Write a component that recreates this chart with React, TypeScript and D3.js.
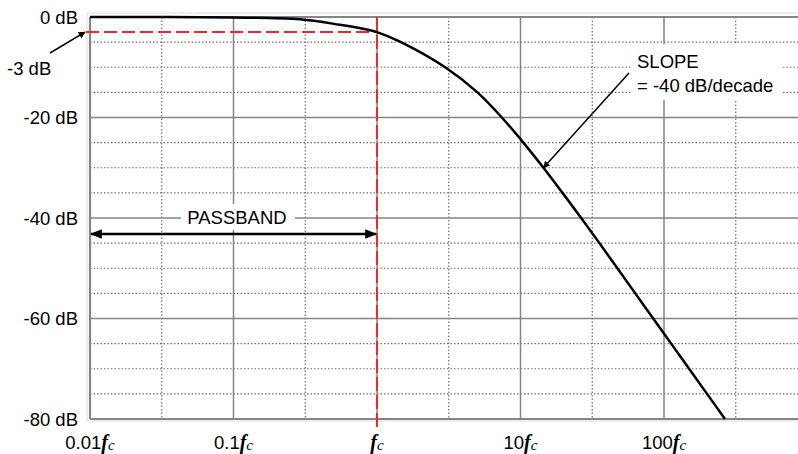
import React from "react";
import * as d3 from "d3";

// frequency as multiple of fc, gain in dB
const curveFreq = [0.01, 0.1, 0.29, 0.55, 0.85, 1, 1.445, 2.985, 5.01, 7.41, 10.47, 14.45, 19.63, 26.49, 35.48, 47.32, 63.1, 84.1, 112.2, 149.6, 199.5, 266.1];
const curveDb = [0, -0.1, -0.45, -1.55, -2.5, -3, -4.9, -10, -15, -20, -25, -30, -35, -40, -45, -50, -55, -60, -65, -70, -75, -80];

const decadeTicks = [0.01, 0.1, 1, 10, 100, 1000];
const decadePrefix = ["0.01", "0.1", "", "10", "100", ""];
const dbMajor = [0, -20, -40, -60, -80];
const dbMinor = [-5, -10, -15, -25, -30, -35, -45, -50, -55, -65, -70, -75];
const cutoffDb = -3;
const cutoffFreq = 1;
const passbandFrom = 0.01;

const W = 798;
const H = 454;

export default function App() {
  const x = d3.scaleLog().domain([0.01, 1000]).range([90, 807.5]);
  const y = d3.scaleLinear().domain([0, -80]).range([17, 419]);
  const minorFreq = decadeTicks.slice(0, -1).map((d, i) => Math.sqrt(d * decadeTicks[i + 1]));
  const line = d3
    .line<number>()
    .x((_, i) => x(curveFreq[i]))
    .y((d) => y(d))
    .curve(d3.curveCatmullRom.alpha(0.5));
  const sans = "'Liberation Sans', Arial, sans-serif";
  const serif = "'Liberation Serif', 'Times New Roman', serif";
  const gray = "#858585";
  const dotGray = "#6e6e6e";
  const red = "#f02828";

  const xc = x(cutoffFreq);
  const y3 = y(cutoffDb);

  // slope arrow: from text to a point on the curve
  const slopeTipIdx = 11;
  const tipX = x(curveFreq[slopeTipIdx]);
  const tipY = y(curveDb[slopeTipIdx]);
  const fromX = 629;
  const fromY = 73;

  return (
    <svg width={W} height={H} style={{ position: "absolute", left: 0, top: 0, background: "#fff" }} fontFamily={sans}>
      <defs>
        <marker id="ah" viewBox="0 0 10 10" refX="9" refY="5" markerWidth="7" markerHeight="7" orient="auto-start-reverse" markerUnits="userSpaceOnUse">
          <path d="M0,0 L10,5 L0,10 z" fill="#000" />
        </marker>
        <marker id="ah2" viewBox="0 0 10 10" refX="9" refY="5" markerWidth="12" markerHeight="12" orient="auto-start-reverse" markerUnits="userSpaceOnUse">
          <path d="M0,1 L10,5 L0,9 z" fill="#000" />
        </marker>
      </defs>
      {/* light outer frame */}
      <path d={`M${W},13 H87 V421 H${W}`} fill="none" stroke="#dcdcdc" strokeWidth={1} />
      {/* minor horizontal */}
      {dbMinor.map((d) => (
        <line key={"hm" + d} x1={90} x2={W} y1={y(d)} y2={y(d)} stroke={dotGray} strokeWidth={1.2} strokeDasharray="1.5,2" />
      ))}
      {/* minor vertical */}
      {minorFreq.map((f) => (
        <line key={"vm" + f} x1={x(f)} x2={x(f)} y1={17} y2={419} stroke={dotGray} strokeWidth={1.2} strokeDasharray="1.5,2" />
      ))}
      {/* major horizontal */}
      {dbMajor.map((d) => (
        <line key={"hM" + d} x1={90} x2={W} y1={y(d)} y2={y(d)} stroke={gray} strokeWidth={d === 0 || d === -80 ? 2.2 : 1.5} />
      ))}
      {/* major vertical */}
      {decadeTicks.map((f) => (
        <line key={"vM" + f} x1={x(f)} x2={x(f)} y1={17} y2={419} stroke={gray} strokeWidth={f === 0.01 ? 2.2 : 1.5} />
      ))}
      {/* white boxes behind labels */}
      <rect x={181} y={204} width={114} height={26} fill="#fff" />
      <rect x={632} y={44} width={150} height={56} fill="#fff" />
      {/* red cutoff markers */}
      <line x1={86} x2={xc} y1={y3} y2={y3} stroke={red} strokeWidth={2} strokeDasharray="13,5" />
      <line x1={xc} x2={xc} y1={17} y2={428} stroke={red} strokeWidth={2} strokeDasharray="14,4" />
      {/* response curve */}
      <path d={line(curveDb) || ""} fill="none" stroke="#000" strokeWidth={2.5} />
      {/* y labels */}
      {dbMajor.map((d) => (
        <text key={"yl" + d} x={78} y={y(d)} dy="0.36em" textAnchor="end" fontSize={18.5} fill="#000">
          {d} dB
        </text>
      ))}
      <text x={7} y={68} dy="0.36em" fontSize={18.5} fill="#000">
        {cutoffDb} dB
      </text>
      <line x1={50} y1={53} x2={85} y2={y3} stroke="#000" strokeWidth={1.5} markerEnd="url(#ah)" />
      {/* x labels */}
      {decadeTicks.map((f, i) =>
        f === 1000 ? null : (
          <text key={"xl" + f} x={x(f)} y={442} dy="0.36em" textAnchor="middle" fontSize={18.5} fill="#000">
            {decadePrefix[i] && <tspan fontFamily={sans}>{decadePrefix[i]}</tspan>}
            <tspan fontFamily={serif} fontStyle="italic" fontWeight="bold" fontSize={20}>f</tspan>
            <tspan fontFamily={serif} fontStyle="italic" fontSize={15} dy={1.5}>c</tspan>
          </text>
        )
      )}
      {/* passband */}
      <text x={237} y={217} dy="0.36em" textAnchor="middle" fontSize={18.5} fill="#000">
        PASSBAND
      </text>
      <line x1={x(passbandFrom) + 1} x2={xc - 1} y1={234} y2={234} stroke="#000" strokeWidth={2.5} markerStart="url(#ah2)" markerEnd="url(#ah2)" />
      {/* slope */}
      <text x={637} y={68} fontSize={18.5} fill="#000">SLOPE</text>
      <text x={637} y={92} fontSize={18.5} fill="#000">= -40 dB/decade</text>
      <line x1={fromX} y1={fromY} x2={tipX} y2={tipY} stroke="#000" strokeWidth={1.5} markerEnd="url(#ah)" />
    </svg>
  );
}
